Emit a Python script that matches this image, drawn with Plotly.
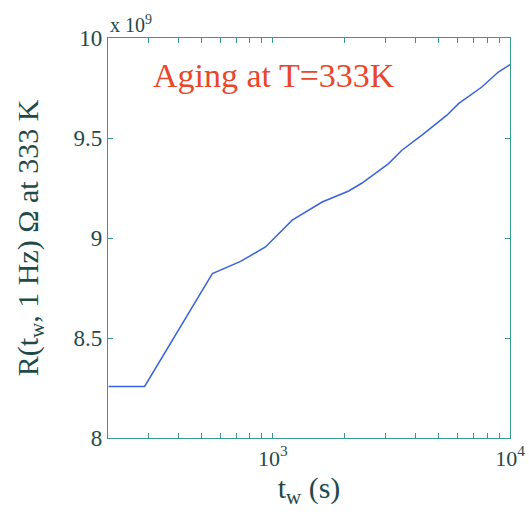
import plotly.graph_objects as go

# Data (resistance in units of 1e9 Ohm)
t_w = [203, 288, 556, 731, 931, 1207, 1614, 2089, 2378, 3076, 3500, 4253, 5420, 6066, 7607, 8930, 10000]
R = [8.258, 8.258, 8.822, 8.883, 8.955, 9.089, 9.18, 9.235, 9.275, 9.372, 9.439, 9.514, 9.614, 9.672, 9.755, 9.83, 9.867]

x_major_vals = [1000, 10000]
x_major_text = ["10<sup>3</sup>", "10<sup>4</sup>"]
x_minor_vals = [200, 300, 400, 500, 600, 700, 800, 900, 2000, 3000, 4000, 5000, 6000, 7000, 8000, 9000]
y_tickvals = [8, 8.5, 9, 9.5, 10]
y_ticktext = ["8", "8.5", "9", "9.5", "10"]

FONT = "Liberation Serif"
TXT = "#1f4a48"
AX = "#3a9696"

fig = go.Figure()
fig.add_trace(go.Scatter(x=t_w, y=R, mode="lines",
                         line=dict(color="#3b62dc", width=1.5),
                         showlegend=False))

fig.update_layout(
    template="none",
    width=529, height=516,
    margin=dict(l=108, r=19, t=38, b=78),
    paper_bgcolor="white", plot_bgcolor="white",
    font=dict(family=FONT, color=TXT),
    xaxis=dict(type="log", range=[2.305, 4.0],
               tickmode="array", tickvals=x_major_vals, ticktext=x_major_text,
               ticks="inside", ticklen=5, tickcolor=AX,
               minor=dict(tickmode="array", tickvals=x_minor_vals, ticks="inside",
                          ticklen=5, tickcolor=AX, showgrid=False),
               showline=True, linecolor=AX, linewidth=1.2, mirror="ticks",
               showgrid=False, zeroline=False,
               tickfont=dict(size=22, family=FONT, color=TXT),
               title=dict(text="t<sub>w</sub> (s)", font=dict(size=30, family=FONT, color=TXT),
                          standoff=6)),
    yaxis=dict(range=[8, 10],
               tickmode="array", tickvals=y_tickvals, ticktext=y_ticktext,
               ticks="inside", ticklen=5, tickcolor=AX,
               showline=True, linecolor=AX, linewidth=1.2, mirror="ticks",
               showgrid=False, zeroline=False,
               tickfont=dict(size=23, family=FONT, color=TXT),
               title=dict(text="R(t<sub>w</sub>, 1 Hz) Ω at 333 K",
                          font=dict(size=30, family=FONT, color=TXT),
                          standoff=26)),
    annotations=[
        dict(text="Aging at T=333K", xref="paper", yref="paper",
             x=0.108, y=0.905, xanchor="left", yanchor="middle", showarrow=False,
             font=dict(size=34, family=FONT, color="#e8472c")),
        dict(text="x 10<sup>9</sup>", xref="paper", yref="paper",
             x=0.0, y=1.0, xanchor="left", yanchor="bottom", showarrow=False,
             font=dict(size=20, family=FONT, color=TXT)),
    ],
)

fig.write_html("out.html")
